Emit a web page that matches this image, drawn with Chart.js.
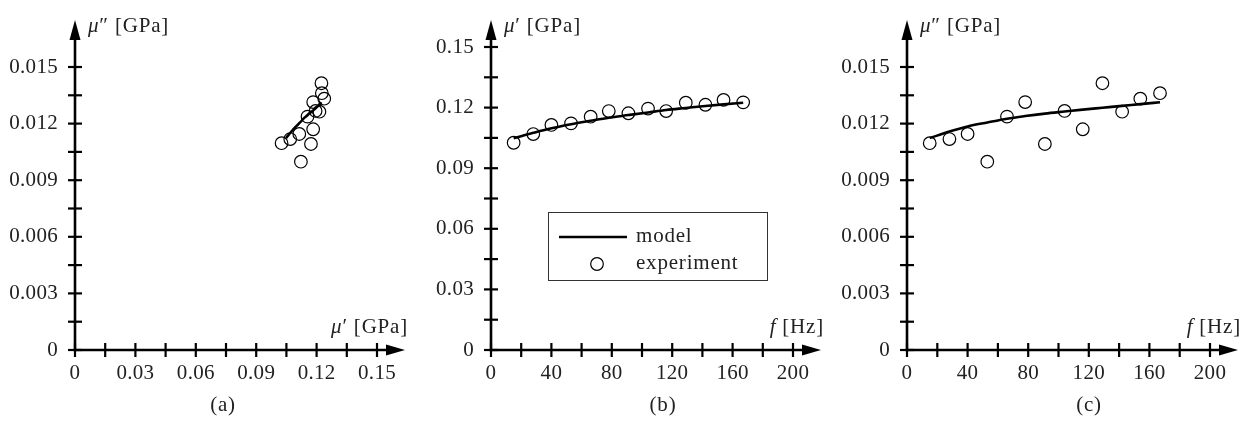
<!DOCTYPE html>
<html><head><meta charset="utf-8">
<script src="https://cdn.jsdelivr.net/npm/chart.js@4.4.1/dist/chart.umd.min.js"></script>
<style>
html,body{margin:0;padding:0;background:#fff;}
body{width:1249px;height:421px;position:relative;overflow:hidden;}
canvas{position:absolute;top:0;}
</style></head><body>
<canvas id="ca" width="416" height="421" style="left:0px"></canvas>
<canvas id="cb" width="416" height="421" style="left:416px"></canvas>
<canvas id="cc" width="417" height="421" style="left:832px"></canvas>
<script>
// ---- data ----
const frequency = [15, 28, 40, 53, 66, 78, 91, 104, 116, 129, 142, 154, 167];           // f [Hz]
const expStorage = [0.1026, 0.1069, 0.1114, 0.1122, 0.1155, 0.1183, 0.1172, 0.1195, 0.1183, 0.1224, 0.1214, 0.1238, 0.1226]; // mu' [GPa]
const expLoss = [0.01096, 0.01118, 0.01145, 0.00998, 0.01237, 0.01314, 0.01092, 0.01267, 0.01170, 0.01414, 0.01263, 0.01332, 0.01361]; // mu'' [GPa]
const modelStorage = [0.1048, 0.1075, 0.1098, 0.1118, 0.1135, 0.1150, 0.1163, 0.1176, 0.1188, 0.1198, 0.1208, 0.1216, 0.1224];
const modelLoss = [0.01123, 0.01158, 0.01185, 0.01206, 0.01226, 0.01240, 0.01253, 0.01264, 0.01274, 0.01284, 0.01294, 0.01303, 0.01313];

const storageTickLabelsA = ['0', '0.03', '0.06', '0.09', '0.12', '0.15'];
const lossTickLabels = ['0', '0.003', '0.006', '0.009', '0.012', '0.015'];
const storageTickLabelsB = ['0', '0.03', '0.06', '0.09', '0.12', '0.15'];
const freqTickLabels = ['0', '40', '80', '120', '160', '200'];

const seriesNames = ['model', 'experiment'];
const captions = ['(a)', '(b)', '(c)'];

Chart.defaults.font.family = "'Liberation Serif', 'DejaVu Serif', serif";
Chart.defaults.font.size = 21;
Chart.defaults.color = '#222';

const FONT = "21px 'Liberation Serif', 'DejaVu Serif', serif";
const IFONT = "italic 21px 'Liberation Serif', 'DejaVu Serif', serif";

function drawParts(ctx, parts, x, y, align) {
  let total = 0;
  parts.forEach(p => { ctx.font = p[1] ? IFONT : FONT; total += ctx.measureText(p[0]).width; });
  let cx = align === 'right' ? x - total : x;
  ctx.textAlign = 'left';
  parts.forEach(p => { ctx.font = p[1] ? IFONT : FONT; ctx.fillText(p[0], cx, y); cx += ctx.measureText(p[0]).width; });
}

const decor = {
  id: 'decor',
  beforeDraw(chart) { chart.ctx.letterSpacing = '0.3px'; },
  beforeDatasetsDraw(chart, args, o) {
    const {ctx, chartArea: {right}, scales: {x, y}} = chart;
    const ox = x.getPixelForValue(0), oy = y.getPixelForValue(0);
    const tipX = right + 28, tipY = 20;
    ctx.save();
    ctx.strokeStyle = '#000'; ctx.fillStyle = '#000';
    ctx.lineWidth = 2.6; ctx.lineCap = 'butt';
    ctx.beginPath(); ctx.moveTo(ox - 1.3, oy); ctx.lineTo(tipX - 16, oy); ctx.stroke();
    ctx.beginPath(); ctx.moveTo(tipX, oy); ctx.lineTo(tipX - 19, oy - 5.5); ctx.lineTo(tipX - 19, oy + 5.5); ctx.closePath(); ctx.fill();
    ctx.beginPath(); ctx.moveTo(ox, oy + 1.3); ctx.lineTo(ox, tipY + 16); ctx.stroke();
    ctx.beginPath(); ctx.moveTo(ox, tipY); ctx.lineTo(ox - 5.5, tipY + 20); ctx.lineTo(ox + 5.5, tipY + 20); ctx.closePath(); ctx.fill();
    ctx.lineWidth = 2.2;
    x.ticks.forEach(t => { const px = x.getPixelForValue(t.value); ctx.beginPath(); ctx.moveTo(px, oy - 7); ctx.lineTo(px, oy + 7); ctx.stroke(); });
    y.ticks.forEach(t => { const py = y.getPixelForValue(t.value); ctx.beginPath(); ctx.moveTo(ox - 7, py); ctx.lineTo(ox + 7, py); ctx.stroke(); });
    ctx.restore();
  },
  afterDraw(chart, args, o) {
    const {ctx, chartArea: {right, bottom}, scales: {x}} = chart;
    const ox = x.getPixelForValue(0);
    ctx.save();
    ctx.letterSpacing = '0.8px';
    ctx.fillStyle = '#222';
    ctx.textBaseline = 'middle';
    drawParts(ctx, o.yTitle, ox + 13, 26, 'left');
    drawParts(ctx, o.xTitle, right + 31, bottom - 23, 'right');
    ctx.font = FONT; ctx.textAlign = 'center';
    ctx.fillText(o.caption, o.captionX, 405);
    if (o.legend) {
      const L = o.legend;
      ctx.strokeStyle = '#333'; ctx.lineWidth = 1;
      ctx.strokeRect(L.x + 0.5, L.y + 0.5, L.w, L.h);
      ctx.strokeStyle = '#000'; ctx.lineWidth = 2.6;
      ctx.beginPath(); ctx.moveTo(L.x + 11, L.y + 25); ctx.lineTo(L.x + 79, L.y + 25); ctx.stroke();
      ctx.lineWidth = 1.2;
      ctx.beginPath(); ctx.arc(L.x + 49, L.y + 52, 6.3, 0, Math.PI * 2); ctx.stroke();
      ctx.font = FONT; ctx.textAlign = 'left';
      ctx.fillText(seriesNames[0], L.x + 88, L.y + 24);
      ctx.fillText(seriesNames[1], L.x + 88, L.y + 51);
    }
    ctx.restore();
  }
};

function makeChart(id, xs, ys, mxs, mys, xMax, xStep, xLabels, yMax, yStep, yLabels, top, deco) {
  const pts = xs.map((v, i) => ({x: v, y: ys[i]}));
  const mpts = mxs.map((v, i) => ({x: v, y: mys[i]}));
  return new Chart(document.getElementById(id), {
    type: 'scatter',
    data: {datasets: [
      {label: seriesNames[0], data: mpts, showLine: true, borderColor: '#000', borderWidth: 2.6,
       pointRadius: 0, tension: 0.4, cubicInterpolationMode: 'monotone', fill: false},
      {label: seriesNames[1], data: pts, showLine: false, pointStyle: 'circle', pointRadius: 6.3,
       borderColor: '#000', borderWidth: 1.2, backgroundColor: 'rgba(0,0,0,0)'}
    ]},
    options: {
      responsive: false, animation: false, devicePixelRatio: 1,
      layout: {padding: {left: 0, right: 39, top: top, bottom: 0}},
      plugins: {legend: {display: false}, tooltip: {enabled: false}, decor: deco},
      scales: {
        x: {type: 'linear', min: 0, max: xMax,
            grid: {display: false, drawTicks: false}, border: {display: false},
            afterFit(s) { s.height = 71; },
            ticks: {stepSize: xStep, autoSkip: false, maxRotation: 0, padding: 11,
                    callback: (v, i) => (i % 2 === 0 ? xLabels[i / 2] : '')}},
        y: {type: 'linear', min: 0, max: yMax,
            grid: {display: false, drawTicks: false}, border: {display: false},
            afterFit(s) { s.width = 75; },
            ticks: {stepSize: yStep, autoSkip: false, padding: 17,
                    callback: (v, i) => (i % 2 === 0 ? yLabels[i / 2] : '')}}
      }
    },
    plugins: [decor]
  });
}

const PRIME = '\u2032', DPRIME = '\u2033';
makeChart('ca', expStorage, expLoss, modelStorage, modelLoss, 0.15, 0.015, storageTickLabelsA, 0.015, 0.0015, lossTickLabels, 67,
  {yTitle: [['\u03bc', true], [DPRIME + ' [GPa]', false]], xTitle: [['\u03bc', true], [PRIME + ' [GPa]', false]], caption: captions[0], captionX: 223});
makeChart('cb', frequency, expStorage, frequency, modelStorage, 200, 20, freqTickLabels, 0.15, 0.015, storageTickLabelsB, 47,
  {yTitle: [['\u03bc', true], [PRIME + ' [GPa]', false]], xTitle: [['f', true], [' [Hz]', false]], caption: captions[1], captionX: 247,
   legend: {x: 132, y: 212, w: 219, h: 68}});
makeChart('cc', frequency, expLoss, frequency, modelLoss, 200, 20, freqTickLabels, 0.015, 0.0015, lossTickLabels, 67,
  {yTitle: [['\u03bc', true], [DPRIME + ' [GPa]', false]], xTitle: [['f', true], [' [Hz]', false]], caption: captions[2], captionX: 257});
</script>
</body></html>
